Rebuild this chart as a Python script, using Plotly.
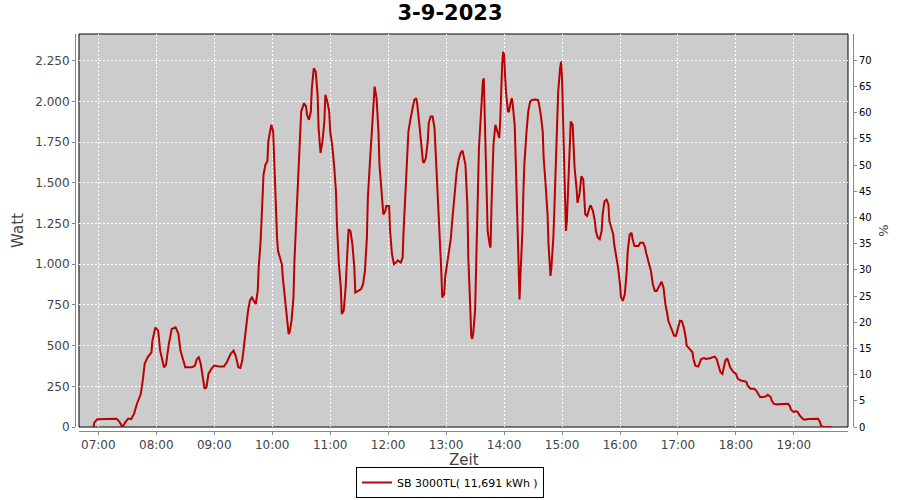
import plotly.graph_objects as go

DAY = "2023-09-03"

times = [
    "06:55", "06:56", "06:59", "07:10", "07:19", "07:22", "07:25", "07:28", "07:31", "07:34",
    "07:37", "07:40", "07:44", "07:46", "07:48", "07:51", "07:55", "07:56", "07:59", "08:02",
    "08:04", "08:08", "08:10", "08:13", "08:16", "08:20", "08:23", "08:25", "08:28", "08:30",
    "08:37", "08:40", "08:42", "08:44", "08:46", "08:48", "08:50", "08:52", "08:54", "08:57",
    "09:00", "09:05", "09:10", "09:13", "09:17", "09:20", "09:22", "09:25", "09:27", "09:29",
    "09:31", "09:32", "09:35", "09:37", "09:39", "09:42", "09:43", "09:45", "09:46", "09:48",
    "09:49", "09:50", "09:51", "09:53", "09:55", "09:56", "09:58", "09:59", "10:01", "10:02",
    "10:03", "10:05", "10:06", "10:08", "10:10", "10:11", "10:13", "10:15", "10:17", "10:18",
    "10:20", "10:22", "10:23", "10:25", "10:27", "10:29", "10:30", "10:33", "10:35", "10:36",
    "10:38", "10:40", "10:41", "10:43", "10:45", "10:47", "10:48", "10:50", "10:52", "10:54",
    "10:55", "10:57", "10:59", "11:00", "11:02", "11:04", "11:06", "11:07", "11:09", "11:11",
    "11:12", "11:14", "11:16", "11:18", "11:19", "11:21", "11:23", "11:25", "11:26", "11:29",
    "11:32", "11:34", "11:36", "11:38", "11:39", "11:41", "11:43", "11:45", "11:46", "11:48",
    "11:50", "11:51", "11:53", "11:55", "11:57", "11:58", "12:01", "12:02", "12:04", "12:06",
    "12:08", "12:10", "12:13", "12:15", "12:16", "12:18", "12:20", "12:21", "12:23", "12:25",
    "12:27", "12:29", "12:30", "12:32", "12:34", "12:36", "12:37", "12:39", "12:41", "12:42",
    "12:44", "12:46", "12:48", "12:49", "12:51", "12:53", "12:55", "12:56", "12:58", "12:59",
    "13:01", "13:03", "13:05", "13:06", "13:08", "13:10", "13:11", "13:13", "13:15", "13:17",
    "13:18", "13:20", "13:22", "13:23", "13:25", "13:26", "13:27", "13:28", "13:30", "13:31",
    "13:32", "13:33", "13:34", "13:36", "13:37", "13:38", "13:39", "13:40", "13:41", "13:42",
    "13:43", "13:45", "13:46", "13:47", "13:48", "13:49", "13:51", "13:52", "13:54", "13:55",
    "13:56", "13:57", "13:58", "13:59", "14:00", "14:01", "14:02", "14:04", "14:05", "14:07",
    "14:08", "14:09", "14:11", "14:12", "14:13", "14:14", "14:15", "14:16", "14:17", "14:19",
    "14:20", "14:21", "14:23", "14:25", "14:27", "14:29", "14:32", "14:35", "14:36", "14:38",
    "14:40", "14:41", "14:43", "14:45", "14:46", "14:47", "14:48", "14:49", "14:51", "14:52",
    "14:53", "14:55", "14:56", "14:58", "14:59", "15:00", "15:01", "15:02", "15:03", "15:04",
    "15:05", "15:07", "15:08", "15:09", "15:11", "15:12", "15:13", "15:15", "15:16", "15:18",
    "15:19", "15:20", "15:22", "15:23", "15:24", "15:26", "15:27", "15:29", "15:30", "15:32",
    "15:34", "15:35", "15:37", "15:39", "15:41", "15:42", "15:44", "15:46", "15:48", "15:49",
    "15:51", "15:53", "15:54", "15:56", "15:58", "16:00", "16:01", "16:03", "16:05", "16:07",
    "16:08", "16:10", "16:12", "16:13", "16:15", "16:19", "16:21", "16:24", "16:26", "16:27",
    "16:29", "16:31", "16:32", "16:34", "16:36", "16:38", "16:41", "16:43", "16:45", "16:47",
    "16:49", "16:50", "16:52", "16:54", "16:56", "16:58", "17:00", "17:02", "17:04", "17:06",
    "17:08", "17:09", "17:12", "17:15", "17:16", "17:18", "17:21", "17:22", "17:24", "17:27",
    "17:29", "17:33", "17:35", "17:38", "17:40", "17:42", "17:44", "17:46", "17:47", "17:49",
    "17:51", "17:52", "17:54", "17:57", "18:00", "18:02", "18:05", "18:09", "18:11", "18:12",
    "18:15", "18:19", "18:21", "18:23", "18:25", "18:28", "18:31", "18:33", "18:36", "18:37",
    "18:39", "18:42", "18:52", "18:54", "18:56", "18:57", "19:00", "19:02", "19:04", "19:06",
    "19:09", "19:11", "19:15", "19:20", "19:25", "19:27", "19:28", "19:30", "19:33", "19:39",
]

watt = [
    0, 30, 48, 51, 51, 30, 0, 30, 52, 48,
    82, 143, 204, 286, 388, 428, 459, 530, 612, 590,
    469, 367, 380, 510, 602, 612, 571, 469, 398, 367,
    367, 377, 418, 428, 388, 306, 235, 245, 326, 357,
    377, 371, 371, 398, 449, 469, 440, 367, 363, 408,
    510, 592, 714, 779, 796, 765, 755, 836, 979, 1142,
    1285, 1428, 1550, 1612, 1632, 1754, 1836, 1856, 1816, 1652,
    1408, 1163, 1081, 1040, 1000, 918, 796, 653, 571, 581,
    653, 796, 1020, 1285, 1571, 1816, 1938, 1989, 1969, 1918,
    1887, 1938, 2081, 2203, 2183, 2040, 1836, 1683, 1754, 1877,
    2040, 1999, 1938, 1816, 1734, 1612, 1448, 1244, 1000, 857,
    694, 714, 857, 1102, 1214, 1204, 1122, 979, 826, 836,
    847, 877, 959, 1163, 1408, 1612, 1816, 2040, 2091, 2020,
    1816, 1612, 1448, 1306, 1326, 1357, 1357, 1204, 1061, 1000,
    1010, 1024, 1010, 1040, 1204, 1448, 1652, 1816, 1887, 1938,
    2009, 2020, 1989, 1877, 1734, 1632, 1622, 1652, 1754, 1867,
    1907, 1907, 1836, 1714, 1530, 1285, 959, 796, 816, 918,
    1000, 1081, 1163, 1244, 1367, 1469, 1571, 1642, 1683, 1697,
    1673, 1612, 1367, 1040, 734, 560, 541, 571, 714, 1000,
    1204, 1469, 1714, 1918, 2060, 2122, 2142, 1938, 1714, 1489,
    1204, 1122, 1102, 1367, 1550, 1734, 1856, 1836, 1795, 1775,
    1877, 2142, 2224, 2305, 2285, 2162, 2060, 1938, 1938, 1999,
    2020, 1979, 1856, 1652, 1408, 1122, 877, 783, 938, 1204,
    1448, 1612, 1795, 1938, 1999, 2009, 2011, 2009, 1989, 1918,
    1816, 1652, 1489, 1306, 1122, 979, 928, 979, 1163, 1326,
    1510, 1816, 2060, 2203, 2244, 2142, 1877, 1652, 1306, 1204,
    1265, 1550, 1714, 1877, 1856, 1754, 1591, 1469, 1377, 1428,
    1510, 1540, 1520, 1428, 1306, 1296, 1316, 1357, 1357, 1326,
    1265, 1204, 1163, 1153, 1204, 1306, 1387, 1397, 1367, 1265,
    1224, 1183, 1122, 1061, 979, 877, 796, 775, 816, 959,
    1081, 1183, 1193, 1153, 1112, 1112, 1132, 1132, 1102, 1071,
    1030, 979, 959, 877, 836, 836, 877, 893, 857, 755,
    694, 653, 622, 592, 561, 561, 612, 653, 650, 612,
    551, 500, 480, 459, 418, 377, 371, 385, 418, 424,
    418, 422, 428, 432, 418, 377, 336, 326, 360, 408,
    422, 398, 367, 340, 326, 296, 285, 281, 275, 255,
    235, 235, 224, 204, 184, 184, 188, 198, 184, 163,
    143, 139, 139, 143, 126, 106, 92, 98, 92, 71,
    51, 45, 49, 49, 51, 31, 10, 0, 0, 0,
]

series_name = "SB 3000TL( 11,691 kWh )"
chart_title = "3-9-2023"
x_title = "Zeit"

hour_ticks = ["07:00", "08:00", "09:00", "10:00", "11:00", "12:00", "13:00",
              "14:00", "15:00", "16:00", "17:00", "18:00", "19:00"]
watt_ticks = [0, 250, 500, 750, 1000, 1250, 1500, 1750, 2000, 2250]
watt_tick_labels = ["0", "250", "500", "750", "1.000", "1.250", "1.500",
                    "1.750", "2.000", "2.250"]
pct_ticks = list(range(0, 75, 5))

x_vals = [f"{DAY} {t}" for t in times]

fig = go.Figure()
fig.add_trace(go.Scatter(
    x=x_vals, y=watt, mode="lines", name=series_name,
    line=dict(color="#BB0000", width=2),
))
fig.add_trace(go.Scatter(
    x=[x_vals[0]], y=[None], yaxis="y2", mode="lines",
    showlegend=False, hoverinfo="skip",
))

W, H = 900, 500
ml, mr, mt, mb = 75, 47, 34, 69
pw = W - ml - mr
ph = H - mt - mb

axis_grey = "#888888"
label_col = "#444444"

fig.update_layout(
    width=W, height=H,
    margin=dict(l=ml, r=mr, t=mt, b=mb, autoexpand=False),
    paper_bgcolor="white",
    plot_bgcolor="#CCCCCC",
    font=dict(family="DejaVu Sans", size=12, color=label_col),
    title=dict(text=f"<b>{chart_title}</b>", x=0.5, xref="container",
               y=1 - 13 / H, yref="container", xanchor="center", yanchor="middle",
               font=dict(family="DejaVu Sans", size=21, color="black"),
               automargin=False),
    xaxis=dict(
        type="date",
        domain=[4 / pw, (pw - 5) / pw],
        anchor="free", position=0,
        range=[f"{DAY} 06:40", f"{DAY} 19:56"],
        tickvals=[f"{DAY} {h}" for h in hour_ticks],
        ticktext=hour_ticks,
        showgrid=True, gridcolor="white", griddash="2px,2px", gridwidth=1,
        showline=True, linecolor=axis_grey, linewidth=1,
        ticks="outside", ticklen=3, tickcolor=axis_grey,
        tickfont=dict(size=12, color=label_col),
        zeroline=False, automargin=False,
    ),
    yaxis=dict(
        domain=[4 / ph, 1],
        anchor="free", position=0,
        range=[0, 2414],
        tickvals=watt_ticks, ticktext=watt_tick_labels,
        showgrid=True, gridcolor="white", griddash="2px,2px", gridwidth=1,
        showline=True, linecolor=axis_grey, linewidth=1,
        ticks="outside", ticklen=3, tickcolor=axis_grey,
        tickfont=dict(size=12, color=label_col),
        title=dict(text="Watt", font=dict(size=15, color=label_col), standoff=6),
        zeroline=False, automargin=False,
    ),
    yaxis2=dict(
        overlaying="y", side="right",
        anchor="free", position=1,
        range=[0, 75],
        tickvals=pct_ticks,
        showgrid=False,
        showline=True, linecolor=axis_grey, linewidth=1,
        ticks="outside", ticklen=3, tickcolor=axis_grey,
        tickfont=dict(size=10, color="black"),
        title=dict(text="%", font=dict(size=13, color=label_col), standoff=8),
        zeroline=False, automargin=False,
    ),
    legend=dict(
        orientation="h",
        x=0.5, xref="container", xanchor="center",
        y=2 / H, yref="container", yanchor="bottom",
        bordercolor="black", borderwidth=1,
        bgcolor="white",
        font=dict(size=11, color="black"),
        itemwidth=30,
    ),
    showlegend=True,
    annotations=[dict(text=x_title, xref="x domain", x=0.5, xanchor="center",
                      yref="paper", y=-29 / ph, yanchor="middle",
                      showarrow=False, font=dict(size=15, color=label_col))],
    shapes=[dict(type="rect", xref="x domain", yref="y domain",
                 x0=0, x1=1, y0=0, y1=1, line=dict(color="black", width=1),
                 fillcolor="rgba(0,0,0,0)", layer="below")],
)

fig.write_html("out.html", config={"displayModeBar": False},
               post_script="document.body.style.margin='0';")
